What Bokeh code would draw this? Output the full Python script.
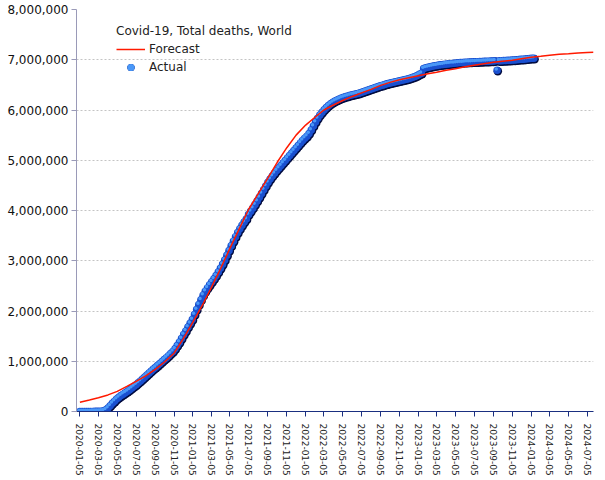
import pandas as pd
from bokeh.plotting import figure
from bokeh.models import (ColumnDataSource, FixedTicker, DatetimeTickFormatter,
                          NumeralTickFormatter, Legend, LegendItem, Range1d)
from bokeh.transform import dodge
from bokeh.embed import file_html
from bokeh.resources import INLINE

# ---------------- data ----------------
tick_labels = ["2020-01-05", "2020-03-05", "2020-05-05", "2020-07-05", "2020-09-05", "2020-11-05",
               "2021-01-05", "2021-03-05", "2021-05-05", "2021-07-05", "2021-09-05", "2021-11-05",
               "2022-01-05", "2022-03-05", "2022-05-05", "2022-07-05", "2022-09-05", "2022-11-05",
               "2023-01-05", "2023-03-05", "2023-05-05", "2023-07-05", "2023-09-05", "2023-11-05",
               "2024-01-05", "2024-03-05", "2024-05-05", "2024-07-05"]
y_ticks = [0, 1000000, 2000000, 3000000, 4000000, 5000000, 6000000, 7000000, 8000000]

# forecast: monthly (5th of month) from 2020-01-05, plus final point 2024-07-25 (thousands)
forecast_k = [185, 230, 275, 330, 400, 500, 600, 710, 840, 985, 1160, 1450,
              1780, 2120, 2460, 2850, 3250, 3650, 4030, 4340, 4650, 4960, 5250, 5500,
              5700, 5860, 6000, 6100, 6190, 6270, 6340, 6410, 6490, 6550, 6600, 6640,
              6680, 6720, 6750, 6790, 6820, 6860, 6890, 6920, 6950, 6970, 6990, 7020,
              7050, 7070, 7090, 7110, 7120, 7135, 7145, 7150]
forecast_end = "2024-07-25"

# actual: weekly from 2020-01-05 (thousands)
actual_2020 = [0, 0, 0, 0.1, 0.4, 0.9, 1.7, 2.5, 3.0, 3.6, 6.5, 15, 33, 69, 114, 165, 206,
               247, 283, 316, 345, 372, 401, 432, 466, 501, 534, 570, 607, 646, 686, 727,
               768, 807, 845, 881, 918, 956, 994, 1033, 1072, 1111, 1152, 1196, 1250, 1312,
               1380, 1453, 1530, 1604, 1680, 1755]
actual_2021 = [1830, 1930, 2030, 2130, 2225, 2315, 2395, 2460, 2520, 2580, 2640, 2705, 2775,
               2850, 2930, 3015, 3110, 3205, 3300, 3390, 3480, 3560, 3635, 3705, 3770, 3830,
               3920, 3985, 4050, 4120, 4190, 4265, 4340, 4415, 4490, 4560, 4625, 4685, 4740,
               4795, 4845, 4895, 4945, 4995, 5045, 5095, 5145, 5195, 5245, 5295, 5345, 5395]
actual_2022 = [5440, 5480, 5530, 5600, 5680, 5760, 5835, 5900, 5955, 6005, 6050, 6090, 6125,
               6155, 6180, 6200, 6220, 6238, 6253, 6267, 6280, 6292, 6303, 6313, 6323, 6335,
               6348, 6362, 6377, 6392, 6407, 6422, 6437, 6452, 6467, 6481, 6495, 6508, 6520,
               6532, 6543, 6553, 6563, 6573, 6583, 6593, 6603, 6613, 6623, 6635, 6650, 6668]
actual_2023 = [6688, 6710, 6730, 6825, 6840, 6852, 6862, 6872, 6880, 6887, 6894, 6900, 6906,
               6912, 6917, 6922, 6927, 6931, 6935, 6939, 6943, 6946, 6949, 6952, 6954, 6956,
               6958, 6960, 6962, 6964, 6966, 6968, 6970, 6972, 6974, 6976, 6978, 6790, 6980,
               6982, 6984, 6986, 6988, 6991, 6994, 6997, 7000, 7004, 7008, 7012, 7016, 7020, 7024]
actual_2024 = [7028, 7032]

# ---------------- sources ----------------
actual_k = actual_2020 + actual_2021 + actual_2022 + actual_2023 + actual_2024
actual_dates = pd.date_range("2020-01-05", periods=len(actual_k), freq="7D")
act_src = ColumnDataSource(dict(x=actual_dates, y=[v * 1000 for v in actual_k]))

f_dates = list(pd.date_range("2020-01-05", periods=len(forecast_k) - 1, freq=pd.DateOffset(months=1)))
f_dates.append(pd.Timestamp(forecast_end))
fc_src = ColumnDataSource(dict(x=f_dates, y=[v * 1000 for v in forecast_k]))

FONT = "DejaVu Sans"

p = figure(width=605, height=480, x_axis_type="datetime", output_backend="svg",
           toolbar_location=None,
           x_range=Range1d(pd.Timestamp("2019-12-25"), pd.Timestamp("2024-07-25")),
           y_range=Range1d(0, 8000000),
           min_border_left=76, min_border_right=12, min_border_top=9, min_border_bottom=69)
p.outline_line_color = None
p.background_fill_color = "white"
p.border_fill_color = "white"

# grid
p.xgrid.grid_line_color = None
p.ygrid.grid_line_color = "#c4c4c4"
p.ygrid.grid_line_dash = "2 2"
p.ygrid.grid_line_width = 1

# y axis
p.yaxis.ticker = FixedTicker(ticks=y_ticks)
p.yaxis.formatter = NumeralTickFormatter(format="0,0")
p.yaxis.axis_line_color = "#9a9ab8"
p.yaxis.major_tick_line_color = "#9a9ab8"
p.yaxis.major_tick_out = 5
p.yaxis.major_tick_in = 0
p.yaxis.minor_tick_line_color = None
p.yaxis.major_label_text_font = FONT
p.yaxis.major_label_text_font_size = "12px"
p.yaxis.major_label_text_color = "#111111"
p.yaxis.major_label_standoff = 3

# x axis
tick_ms = [pd.Timestamp(t).value // 10**6 for t in tick_labels]
p.xaxis.ticker = FixedTicker(ticks=tick_ms)
fmt = "%Y-%m-%d"
p.xaxis.formatter = DatetimeTickFormatter(days=fmt, months=fmt, years=fmt, hours=fmt,
                                          hourmin=fmt, minutes=fmt, minsec=fmt,
                                          seconds=fmt, milliseconds=fmt, microseconds=fmt)
p.xaxis.major_label_orientation = "vertical"
p.xaxis.axis_line_color = "#1a2f80"
p.xaxis.axis_line_width = 1.2
p.xaxis.major_tick_line_color = "#1a2f80"
p.xaxis.major_tick_out = 5
p.xaxis.major_tick_in = 0
p.xaxis.minor_tick_line_color = None
p.xaxis.major_label_text_font = FONT
p.xaxis.major_label_text_font_size = "9px"
p.xaxis.major_label_text_color = "#222222"
p.xaxis.major_label_standoff = 7

# actual: sphere-like markers (dark shadow, blue body, light highlight)
px_y = 8000000 / 402.0
px_x = 3.24 * 86400000
r_dark = p.scatter(x=dodge("x", 0.7 * px_x), y=dodge("y", -1.0 * px_y), source=act_src,
                   size=8.5, marker="circle", fill_color="#020c40", line_color=None)
r_blue = p.scatter(x="x", y="y", source=act_src, size=7.5, marker="circle",
                   fill_color="#1a50d0", line_color=None)
r_light = p.scatter(x=dodge("x", -0.9 * px_x), y=dodge("y", 1.3 * px_y), source=act_src,
                    size=3.5, marker="circle", fill_color="#4a98f8", line_color=None)

# forecast line
r_fc = p.line(x="x", y="y", source=fc_src, line_color="#ff1a00", line_width=1.5)

legend = Legend(items=[LegendItem(label="Forecast", renderers=[r_fc]),
                       LegendItem(label="Actual", renderers=[r_dark, r_blue, r_light])],
                title="Covid-19, Total deaths, World",
                location=(40, 335))
legend.title_text_font = FONT
legend.title_text_font_size = "12px"
legend.title_text_font_style = "normal"
legend.title_text_color = "#222222"
legend.title_standoff = 2
legend.label_text_font = FONT
legend.label_text_font_size = "12px"
legend.label_text_color = "#222222"
legend.border_line_color = None
legend.background_fill_alpha = 0
legend.padding = 0
legend.margin = 0
legend.spacing = 0
legend.glyph_width = 29
legend.glyph_height = 18
legend.label_height = 18
legend.label_standoff = 4
p.add_layout(legend, "center")

open("out.html", "w").write(file_html(p, INLINE))
